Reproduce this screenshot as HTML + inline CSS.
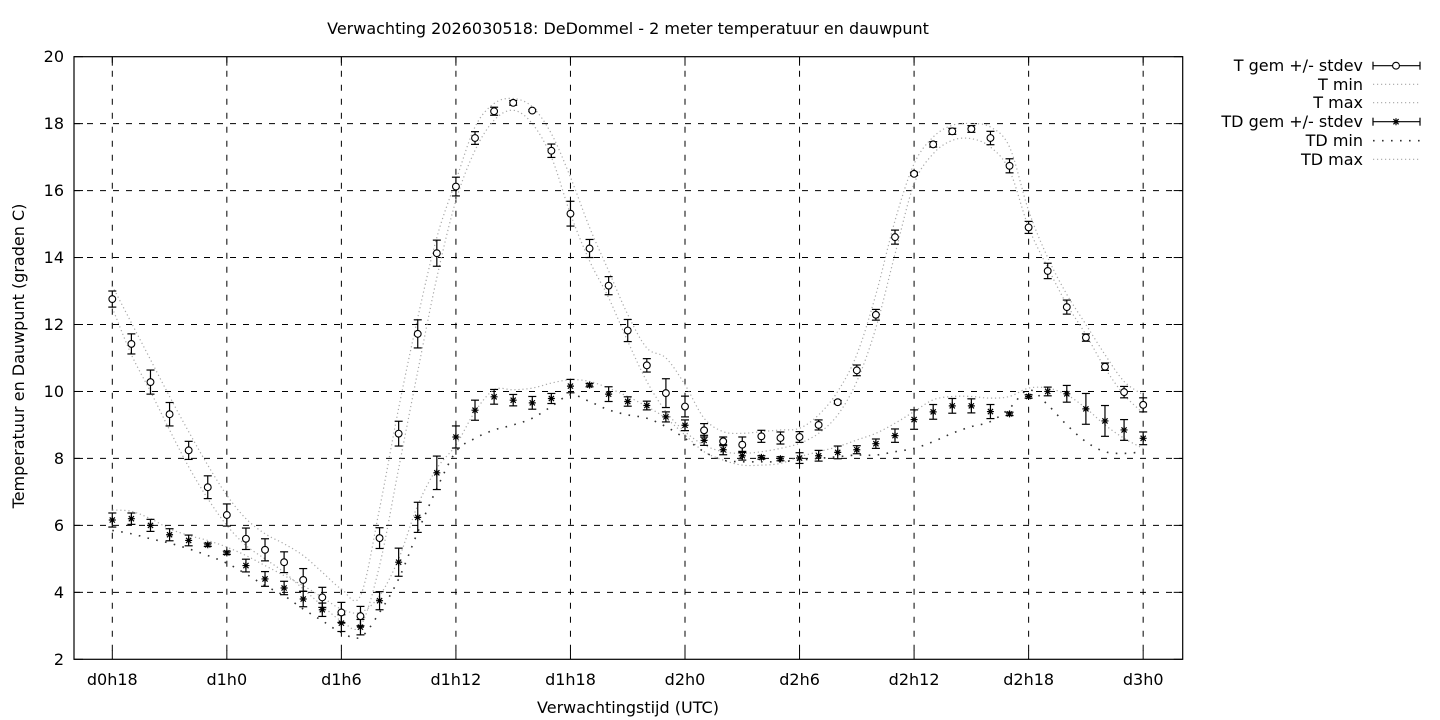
<!DOCTYPE html>
<html><head><meta charset="utf-8"><style>
html,body{margin:0;padding:0;background:#fff;}
svg{display:block;font-family:"DejaVu Sans","Liberation Sans",sans-serif;}
</style></head><body>
<svg id="c" width="1440" height="720" viewBox="0 0 1440 720" xmlns="http://www.w3.org/2000/svg">
<rect width="1440" height="720" fill="#fff"/>
<text x="628" y="34" font-size="16" text-anchor="middle" fill="#000">Verwachting 2026030518: DeDommel - 2 meter temperatuur en dauwpunt</text>
<text x="628" y="713" font-size="16" text-anchor="middle" fill="#000">Verwachtingstijd (UTC)</text>
<text transform="translate(24,356) rotate(-90)" font-size="16" text-anchor="middle" fill="#000">Temperatuur en Dauwpunt (graden C)</text>
<g font-size="16" text-anchor="end" fill="#000">
<text x="64" y="665">2</text><text x="64" y="598">4</text><text x="64" y="531">6</text><text x="64" y="464">8</text><text x="64" y="397">10</text><text x="64" y="330">12</text><text x="64" y="263">14</text><text x="64" y="196">16</text><text x="64" y="129">18</text><text x="64" y="62">20</text>
</g>
<g font-size="16" text-anchor="middle" fill="#000">
<text x="112.3" y="685">d0h18</text><text x="226.8" y="685">d1h0</text><text x="341.4" y="685">d1h6</text><text x="455.9" y="685">d1h12</text><text x="570.5" y="685">d1h18</text><text x="685" y="685">d2h0</text><text x="799.6" y="685">d2h6</text><text x="914.1" y="685">d2h12</text><text x="1028.7" y="685">d2h18</text><text x="1143.2" y="685">d3h0</text>
</g>
<g font-size="16" text-anchor="end" fill="#000">
<text x="1363" y="71">T gem +/- stdev</text>
<text x="1363" y="90">T min</text>
<text x="1363" y="108">T max</text>
<text x="1363" y="127">TD gem +/- stdev</text>
<text x="1363" y="146">TD min</text>
<text x="1363" y="165">TD max</text>
</g>
<g id="plot"></g>
</svg>
<script>
(function(){
var Tm=[12.76,11.42,10.28,9.32,8.24,7.14,6.31,5.6,5.27,4.9,4.37,3.85,3.4,3.29,5.62,8.74,11.72,14.13,16.12,17.57,18.37,18.62,18.39,17.19,15.31,14.27,13.16,11.82,10.78,9.95,9.55,8.84,8.51,8.41,8.66,8.61,8.64,9.0,9.68,10.63,12.29,14.61,16.5,17.38,17.77,17.84,17.57,16.74,14.9,13.6,12.52,11.61,10.74,9.98,9.6];
var Ts=[0.24,0.3,0.36,0.35,0.27,0.34,0.33,0.32,0.33,0.31,0.34,0.3,0.3,0.29,0.31,0.37,0.42,0.39,0.28,0.19,0.12,0.07,0.03,0.2,0.37,0.27,0.27,0.33,0.2,0.43,0.31,0.2,0.13,0.23,0.18,0.18,0.16,0.15,0.05,0.16,0.16,0.21,0.05,0.08,0.09,0.1,0.2,0.21,0.18,0.23,0.21,0.11,0.11,0.17,0.21];
var Dm=[6.16,6.2,6.0,5.72,5.55,5.42,5.18,4.8,4.4,4.13,3.8,3.48,3.08,2.96,3.75,4.9,6.24,7.57,8.64,9.44,9.84,9.74,9.66,9.79,10.16,10.19,9.92,9.7,9.58,9.24,8.99,8.54,8.26,8.08,8.03,7.99,8.01,8.08,8.18,8.26,8.44,8.68,9.16,9.39,9.57,9.57,9.4,9.33,9.85,10.0,9.93,9.48,9.12,8.85,8.6];
var Ds=[0.21,0.17,0.18,0.18,0.16,0.05,0.05,0.19,0.22,0.2,0.23,0.2,0.25,0.23,0.27,0.42,0.45,0.5,0.33,0.3,0.22,0.17,0.19,0.15,0.2,0.05,0.22,0.14,0.13,0.15,0.16,0.15,0.15,0.13,0.05,0.06,0.16,0.16,0.19,0.12,0.14,0.2,0.29,0.22,0.22,0.21,0.21,0.05,0.05,0.13,0.25,0.46,0.46,0.31,0.19];
var Tmax=[13.15,12.05,10.95,9.85,8.8,7.8,6.9,6.2,5.75,5.45,5.1,4.6,4.1,3.9,6.5,9.5,12.2,14.6,16.3,17.9,18.6,18.75,18.5,17.7,16.4,14.9,13.6,12.3,11.3,11.0,10.2,9.2,8.8,8.75,8.8,8.85,8.9,9.3,10.0,11.1,12.9,15.1,16.8,17.6,17.95,18.0,17.9,17.3,15.4,14.0,12.9,12.0,11.1,10.3,9.9];
var Tmin=[12.5,11.1,10.0,8.85,7.75,6.8,6.0,5.4,5.0,4.6,4.1,3.6,3.15,3.0,4.8,7.7,10.6,13.4,15.7,17.2,18.1,18.4,18.0,17.0,15.3,13.9,12.8,11.5,10.3,9.4,8.8,8.4,8.2,8.15,8.2,8.3,8.45,8.75,9.3,10.3,11.9,14.1,16.2,17.1,17.5,17.55,17.3,16.6,14.9,13.7,12.6,11.7,10.7,9.9,9.35];
var Dmax=[6.46,6.42,6.2,5.9,5.7,5.55,5.35,5.1,4.8,4.5,4.2,3.85,3.5,3.4,3.9,5.0,6.6,7.7,8.4,9.4,10.05,10.05,10.1,10.25,10.35,10.3,10.1,9.85,9.55,9.2,8.7,8.2,7.95,7.8,7.8,7.85,8.05,8.2,8.35,8.55,8.75,9.05,9.4,9.75,9.85,9.85,9.8,9.85,10.1,10.1,9.9,9.5,9.0,8.6,8.3];
var Dmin=[5.85,5.75,5.6,5.47,5.3,5.1,4.87,4.55,4.2,3.9,3.5,3.15,2.8,2.66,3.4,4.4,5.8,7.1,8.2,8.6,8.85,9.0,9.2,9.55,9.9,9.7,9.45,9.3,9.2,8.95,8.6,8.2,7.95,7.9,7.9,7.9,7.95,8.0,8.05,8.1,8.1,8.2,8.3,8.5,8.75,8.95,9.1,9.5,10.05,9.6,9.0,8.5,8.2,8.15,8.2];
function X(i){return 112.3+19.09*i;}
function Y(v){return 659.3-(v-2)*33.48;}
var s='';
var L=74,R=1182.7,T=56.7,B=659.3;
for(var v=4;v<=18;v+=2){s+='<line x1="'+L+'" y1="'+Y(v)+'" x2="'+R+'" y2="'+Y(v)+'" stroke="#000" stroke-width="1" stroke-dasharray="6,7"/>';}
for(var k=0;k<=54;k+=6){s+='<line x1="'+X(k)+'" y1="'+T+'" x2="'+X(k)+'" y2="'+B+'" stroke="#000" stroke-width="1" stroke-dasharray="6,8"/>';}
for(var v=2;v<=20;v+=2){var y=Y(v);s+='<line x1="'+L+'" y1="'+y+'" x2="'+(L+9)+'" y2="'+y+'" stroke="#000"/><line x1="'+(R-9)+'" y1="'+y+'" x2="'+R+'" y2="'+y+'" stroke="#000"/>';}
for(var k=0;k<=54;k+=6){var x=X(k);s+='<line x1="'+x+'" y1="'+B+'" x2="'+x+'" y2="'+(B-9)+'" stroke="#000"/><line x1="'+x+'" y1="'+T+'" x2="'+x+'" y2="'+(T+9)+'" stroke="#000"/>';}
function spline(a){
 var p=a.map(function(v,i){return [X(i),Y(v)];});
 var d='M'+p[0][0].toFixed(2)+','+p[0][1].toFixed(2);
 for(var i=0;i<p.length-1;i++){
  var p0=p[i>0?i-1:i],p1=p[i],p2=p[i+1],p3=p[i+2<p.length?i+2:i+1];
  var c1x=p1[0]+(p2[0]-p0[0])/6,c1y=p1[1]+(p2[1]-p0[1])/6;
  var c2x=p2[0]-(p3[0]-p1[0])/6,c2y=p2[1]-(p3[1]-p1[1])/6;
  d+=' C'+c1x.toFixed(2)+','+c1y.toFixed(2)+' '+c2x.toFixed(2)+','+c2y.toFixed(2)+' '+p2[0].toFixed(2)+','+p2[1].toFixed(2);
 }
 return d;
}
s+='<path d="'+spline(Tmin)+'" fill="none" stroke="#a8a8a8" stroke-width="1.2" stroke-dasharray="1.2,2.8"/>';
s+='<path d="'+spline(Tmax)+'" fill="none" stroke="#a8a8a8" stroke-width="1.2" stroke-dasharray="1.2,2.8"/>';
s+='<path d="'+spline(Dmax)+'" fill="none" stroke="#a8a8a8" stroke-width="1.2" stroke-dasharray="1.2,2.8"/>';
s+='<path d="'+spline(Dmin)+'" fill="none" stroke="#333" stroke-width="1.6" stroke-dasharray="1.6,7.4"/>';
function ebar(x,m,sd){
 var y1=Y(m+sd),y2=Y(m-sd);
 return '<line x1="'+x+'" y1="'+y1+'" x2="'+x+'" y2="'+y2+'" stroke="#000" stroke-width="1.2"/>'+
 '<line x1="'+(x-4)+'" y1="'+y1+'" x2="'+(x+4)+'" y2="'+y1+'" stroke="#000" stroke-width="1.2"/>'+
 '<line x1="'+(x-4)+'" y1="'+y2+'" x2="'+(x+4)+'" y2="'+y2+'" stroke="#000" stroke-width="1.2"/>';
}
function star(x,y){
 return '<path d="M'+(x-3.5)+','+y+'H'+(x+3.5)+'M'+x+','+(y-3.5)+'V'+(y+3.5)+'M'+(x-2.6)+','+(y-2.6)+'L'+(x+2.6)+','+(y+2.6)+'M'+(x-2.6)+','+(y+2.6)+'L'+(x+2.6)+','+(y-2.6)+'" stroke="#000" stroke-width="1.2" fill="none"/>';
}
function circ(x,y){return '<circle cx="'+x+'" cy="'+y+'" r="3.4" fill="#fff" stroke="#000" stroke-width="1.1"/>';}
for(var i=0;i<55;i++){var x=X(i);s+=ebar(x,Dm[i],Ds[i]);s+=star(x,Y(Dm[i]));}
for(var i=0;i<55;i++){var x=X(i);s+=ebar(x,Tm[i],Ts[i]);s+=circ(x,Y(Tm[i]));}
s+='<rect x="'+L+'" y="'+T+'" width="'+(R-L)+'" height="'+(B-T)+'" fill="none" stroke="#000" stroke-width="1.2"/>';
function leg(y){return '<line x1="1373" y1="'+y+'" x2="1420" y2="'+y+'" stroke="#000" stroke-width="1.2"/><line x1="1373" y1="'+(y-4)+'" x2="1373" y2="'+(y+4)+'" stroke="#000" stroke-width="1.2"/><line x1="1420" y1="'+(y-4)+'" x2="1420" y2="'+(y+4)+'" stroke="#000" stroke-width="1.2"/>';}
s+=leg(65.7)+circ(1396,65.7);
s+='<line x1="1373" y1="84.3" x2="1420" y2="84.3" stroke="#a8a8a8" stroke-width="1.2" stroke-dasharray="1.2,2.8"/>';
s+='<line x1="1373" y1="102.7" x2="1420" y2="102.7" stroke="#a8a8a8" stroke-width="1.2" stroke-dasharray="1.2,2.8"/>';
s+=leg(121.7)+star(1396,121.7);
s+='<line x1="1373" y1="140.7" x2="1420" y2="140.7" stroke="#333" stroke-width="1.6" stroke-dasharray="1.6,7.4"/>';
s+='<line x1="1373" y1="159.3" x2="1420" y2="159.3" stroke="#a8a8a8" stroke-width="1.2" stroke-dasharray="1.2,2.8"/>';
document.getElementById('plot').innerHTML=s;
})();
</script>
</body></html>
